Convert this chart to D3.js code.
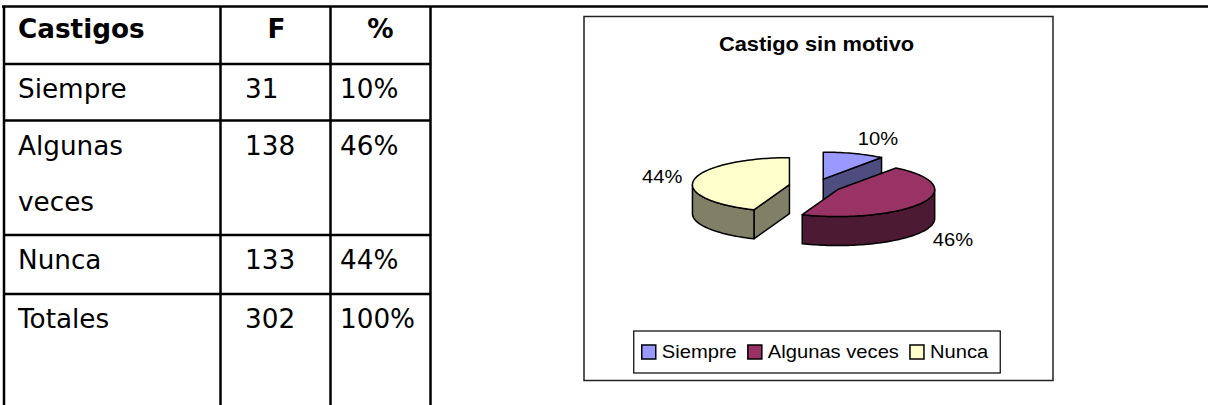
<!DOCTYPE html>
<html>
<head>
<meta charset="utf-8">
<script src="https://cdn.jsdelivr.net/npm/d3@7"></script>
<style>
  body { margin: 0; background: #fff; }
  svg { display: block; }
</style>
</head>
<body>
<div id="chart"></div>
<script>
// data
var categories = ["Siempre", "Algunas veces", "Nunca"];
var rowLabelLines = [["Siempre"], ["Algunas", "veces"], ["Nunca"]];
var frequencies = [31, 138, 133];
var percentLabels = ["10%", "46%", "44%"];
var headerLabels = ["Castigos", "F", "%"];
var totalRow = ["Totales", 302, "100%"];
var chartTitle = "Castigo sin motivo";

var W = 1208, H = 405;
var svg = d3.select("#chart").append("svg")
  .attr("width", W).attr("height", H);

// ---------- table ----------
var colX = [4, 220.5, 330.5, 430.5];       // vertical rules
var rowY = [6.5, 64, 120.5, 235, 294];    // horizontal rules
var tFont = "DejaVu Sans, Verdana, sans-serif";
var tScale = 1.01;

var table = svg.append("g");
table.append("line")
  .attr("x1", 2).attr("x2", W).attr("y1", rowY[0]).attr("y2", rowY[0])
  .attr("stroke", "#000").attr("stroke-width", 2.5);
rowY.slice(1).forEach(function(y) {
  table.append("line")
    .attr("x1", colX[0]).attr("x2", colX[3]).attr("y1", y).attr("y2", y)
    .attr("stroke", "#000").attr("stroke-width", 2.5);
});
colX.forEach(function(x) {
  table.append("line")
    .attr("x1", x).attr("x2", x).attr("y1", rowY[0]).attr("y2", H)
    .attr("stroke", "#000").attr("stroke-width", 2.5);
});

function tText(x, y, s, bold, anchor) {
  table.append("text")
    .attr("transform", "translate(" + x + "," + y + ") scale(" + tScale + ",1)")
    .attr("text-anchor", anchor || "start")
    .style("font-family", tFont)
    .style("font-size", "26px")
    .style("font-weight", bold ? "bold" : "normal")
    .attr("fill", "#000")
    .text(s);
}

// header
tText(18, 38, headerLabels[0], true);
tText((colX[1] + colX[2]) / 2 + 1, 38, headerLabels[1], true, "middle");
tText((colX[2] + colX[3]) / 2, 38, headerLabels[2], true, "middle");

// body rows
var lineGap = 56;
rowLabelLines.forEach(function(lines, i) {
  var base = rowY[i + 1] + 34;
  lines.forEach(function(l, k) { tText(18, base + k * lineGap, l); });
  tText(245, base, frequencies[i]);
  tText(340, base, percentLabels[i]);
});
var totBase = rowY[4] + 34;
tText(18, totBase, totalRow[0]);
tText(245, totBase, totalRow[1]);
tText(340, totBase, totalRow[2]);

// ---------- chart ----------
var box = {x: 584, y: 16.5, w: 469, h: 364};
var cFont = "Liberation Sans, Arial, sans-serif";
var cScale = 1.12;
var chart = svg.append("g");
chart.append("rect")
  .attr("x", box.x).attr("y", box.y).attr("width", box.w).attr("height", box.h)
  .attr("fill", "#fff").attr("stroke", "#222").attr("stroke-width", 1.5);

chart.append("text")
  .attr("transform", "translate(" + (box.x + box.w / 2 - 2) + ",51) scale(" + cScale + ",1)")
  .attr("text-anchor", "middle")
  .style("font-family", cFont).style("font-size", "19.5px").style("font-weight", "bold")
  .text(chartTitle);

var topColor = d3.scaleOrdinal().domain(categories).range(["#9999FF", "#993366", "#FFFFCC"]);
var sideColor = d3.scaleOrdinal().domain(categories).range(["#4D4D80", "#4D1A33", "#808066"]);

// 3D pie geometry
var cx = 815, cy = 186, rx = 97, ry = 27, depth = 29, explode = 26;
var tilt = ry / rx;

var arcs = d3.pie().sort(null).value(function(d) { return d; })(frequencies)
  .map(function(d, i) {
    var mid = (d.startAngle + d.endAngle) / 2;
    d.cat = categories[i];
    d.label = percentLabels[i];
    d.mid = mid;
    d.c = [cx + explode * Math.sin(mid), cy - explode * tilt * Math.cos(mid)];
    return d;
  });

function pt(c, a, dy) {
  return [c[0] + rx * Math.sin(a), c[1] - ry * Math.cos(a) + (dy || 0)];
}
function arcPts(c, a0, a1, dy) {
  var n = Math.max(2, Math.ceil(Math.abs(a1 - a0) / 0.03));
  return d3.range(n + 1).map(function(k) { return pt(c, a0 + (a1 - a0) * k / n, dy); });
}
var line = d3.line();
function poly(p) { return line(p) + "Z"; }

var pieG = chart.append("g")
  .attr("stroke", "#000").attr("stroke-width", 1.5).attr("stroke-linejoin", "round");

// back-to-front
arcs.slice().sort(function(a, b) { return a.c[1] - b.c[1]; }).forEach(function(d) {
  var c = d.c, a0 = d.startAngle, a1 = d.endAngle;
  var cBot = [c[0], c[1] + depth];
  // radial cut faces
  if (Math.cos(a0 - Math.PI / 2) < -1e-6) {
    pieG.append("path").attr("fill", sideColor(d.cat))
      .attr("d", poly([c, pt(c, a0), pt(c, a0, depth), cBot]));
  }
  if (Math.cos(a1 + Math.PI / 2) < -1e-6) {
    pieG.append("path").attr("fill", sideColor(d.cat))
      .attr("d", poly([c, pt(c, a1), pt(c, a1, depth), cBot]));
  }
  // outer wall (front half only)
  var s = Math.max(a0, Math.PI / 2), e = Math.min(a1, 3 * Math.PI / 2);
  if (e > s) {
    var wall = arcPts(c, s, e).concat(arcPts(c, e, s, depth));
    pieG.append("path").attr("fill", sideColor(d.cat)).attr("d", poly(wall));
  }
  // top face
  pieG.append("path").attr("fill", topColor(d.cat))
    .attr("d", poly([c].concat(arcPts(c, a0, a1))));
});

// percent labels
arcs.forEach(function(d) {
  var sn = Math.sin(d.mid), cs = Math.cos(d.mid);
  var lx = d.c[0] + (rx + 12) * sn;
  var ly = d.c[1] - (ry + 16) * cs + (cs < 0 ? depth : 0);
  chart.append("text")
    .attr("transform", "translate(" + lx + "," + (ly + 6.5) + ") scale(" + cScale + ",1)")
    .attr("text-anchor", sn >= 0 ? "start" : "end")
    .style("font-family", cFont).style("font-size", "18px")
    .text(d.label);
});

// legend
var legend = chart.append("g");
var lgBox = legend.append("rect")
  .attr("fill", "#fff").attr("stroke", "#000").attr("stroke-width", 1.2);
var xPos = 0, items = [];
categories.forEach(function(cat, i) {
  var g = legend.append("g");
  g.append("rect").attr("x", 0).attr("y", -12).attr("width", 14).attr("height", 14)
    .attr("fill", topColor(cat)).attr("stroke", "#000").attr("stroke-width", 1.5);
  var t = g.append("text")
    .attr("transform", "translate(20,1) scale(" + cScale + ",1)")
    .style("font-family", cFont).style("font-size", "18px")
    .text(cat);
  var w = t.node().getComputedTextLength() * cScale;
  items.push({g: g, x: xPos});
  xPos += 20 + w + 11;
});
var innerW = xPos - 11;
var lgW = innerW + 8 + 12;
var lgX = box.x + box.w / 2 - lgW / 2 - 1.5;
var lgY = 331, lgH = 42;
lgBox.attr("x", lgX).attr("y", lgY).attr("width", lgW).attr("height", lgH);
items.forEach(function(it) {
  it.g.attr("transform", "translate(" + (lgX + 8 + it.x) + "," + (lgY + 26) + ")");
});
</script>
</body>
</html>
